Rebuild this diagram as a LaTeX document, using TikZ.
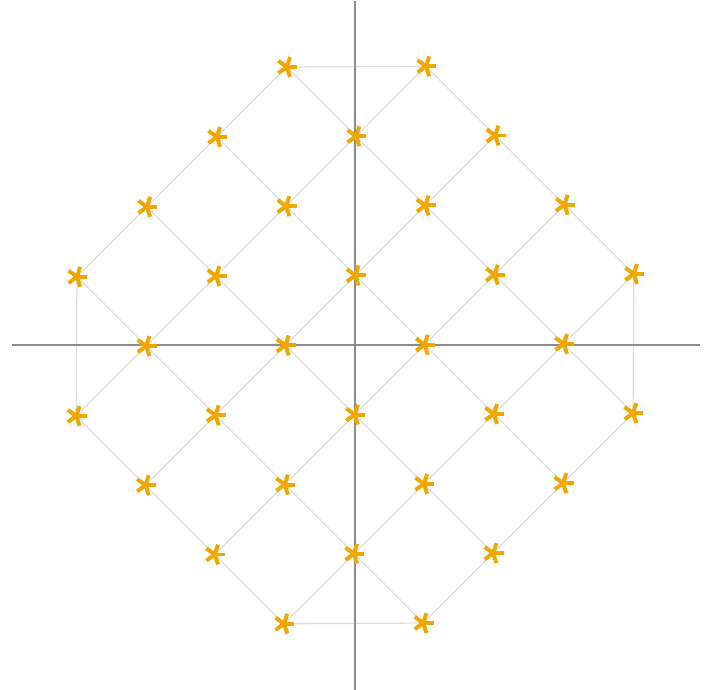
\documentclass[tikz,border=0pt]{standalone}
\definecolor{starorange}{RGB}{242,166,0}
\definecolor{edgegray}{RGB}{221,221,221}
\definecolor{axisgray}{RGB}{140,140,140}
\tikzset{
  edge/.style={draw=edgegray,line width=0.5pt},
  axis/.style={draw=axisgray,line width=1.1pt},
  star/.pic={\foreach \a in {0,72,...,288}
      \draw[starorange,line width=1.6pt] (0,0) -- (\a:0.15);}
}
\begin{document}
\begin{tikzpicture}
\useasboundingbox (-5.101,-4.957) rectangle (5.086,4.957);

\begin{scope}[cm={1,0.005,0.005,1,(0,0)}]
% lattice points
\foreach \x in {-4,...,4}
  \foreach \y in {-4,...,4}{
    \pgfmathtruncatemacro{\s}{abs(\x)+abs(\y)}
    \pgfmathtruncatemacro{\p}{mod(abs(\x+\y),2)}
    \pgfmathtruncatemacro{\i}{\x+4}
    \pgfmathtruncatemacro{\j}{\y+4}
    \ifnum\s<6 \ifnum\p=1 \coordinate (n\i\j) at (\x,\y); \fi\fi
  }
\end{scope}

% diagonal edges
\foreach \x in {-4,...,3}
  \foreach \y in {-4,...,4}{
    \pgfmathtruncatemacro{\i}{\x+4}
    \pgfmathtruncatemacro{\j}{\y+4}
    \pgfmathtruncatemacro{\k}{\x+5}
    \pgfmathtruncatemacro{\u}{\y+5}
    \pgfmathtruncatemacro{\d}{\y+3}
    \pgfmathtruncatemacro{\s}{abs(\x)+abs(\y)}
    \pgfmathtruncatemacro{\p}{mod(abs(\x+\y),2)}
    \pgfmathtruncatemacro{\su}{abs(\x+1)+abs(\y+1)}
    \pgfmathtruncatemacro{\sd}{abs(\x+1)+abs(\y-1)}
    \ifnum\s<6 \ifnum\p=1
      \ifnum\su<6 \ifnum\y<4 \draw[edge] (n\i\j) -- (n\k\u); \fi\fi
      \ifnum\sd<6 \ifnum\y>-4 \draw[edge] (n\i\j) -- (n\k\d); \fi\fi
    \fi\fi
  }
% boundary edges
\draw[edge] (n38) -- (n58);
\draw[edge] (n30) -- (n50);
\draw[edge] (n05) -- (n03);
\draw[edge] (n85) -- (n83);

% axes
\coordinate (xl) at (-4.93,0);
\coordinate (xr) at (4.96,0);
\coordinate (yb) at (0,-4.957);
\coordinate (yt) at (0,4.94);
\draw[axis] (xl) -- (xr);
\draw[axis] (yb) -- (yt);

% markers
\foreach \x in {-4,...,4}
  \foreach \y in {-4,...,4}{
    \pgfmathtruncatemacro{\s}{abs(\x)+abs(\y)}
    \pgfmathtruncatemacro{\p}{mod(abs(\x+\y),2)}
    \pgfmathtruncatemacro{\i}{\x+4}
    \pgfmathtruncatemacro{\j}{\y+4}
    \ifnum\s<6 \ifnum\p=1 \pic at (n\i\j) {star}; \fi\fi
  }

\end{tikzpicture}
\end{document}
